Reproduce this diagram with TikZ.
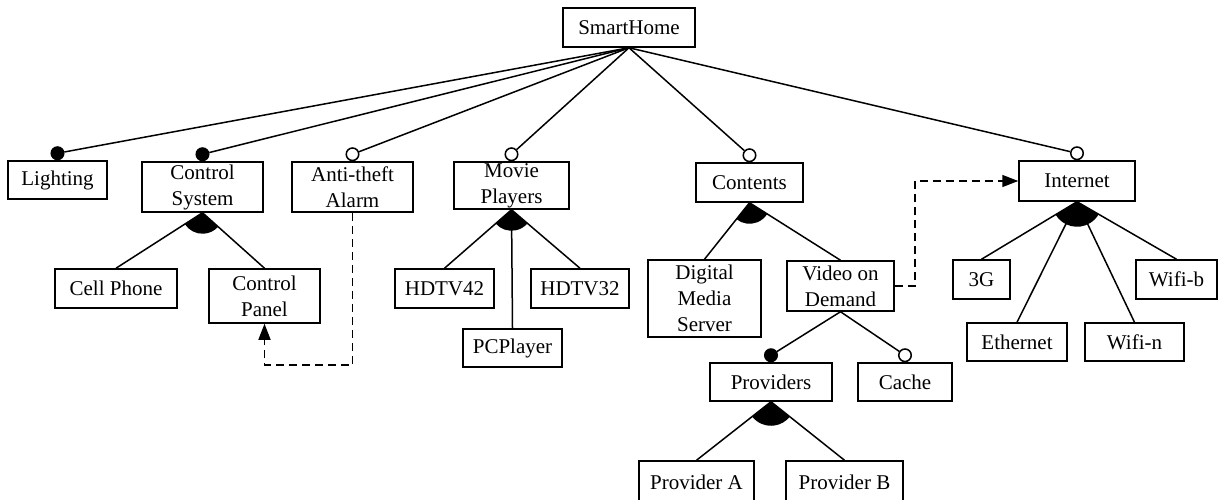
\documentclass[tikz,border=0pt]{standalone}
\usepackage{fontspec}
\setmainfont{Liberation Serif}
\usetikzlibrary{arrows.meta,calc}

\tikzset{
  x=1pt, y=1pt,
  every path/.style={line width=1.5pt},
  feat/.style={draw, line width=1.5pt, inner sep=0pt, align=center,
    font=\fontsize{21}{26}\selectfont},
  mandmark/.style={circle, draw, fill=black, inner sep=0pt,
    minimum size=12.5pt, anchor=south, line width=1.5pt},
  optmark/.style={circle, draw, fill=white, inner sep=0pt,
    minimum size=12.5pt, anchor=south, line width=1.5pt},
  dep/.style={line width=1.5pt, dash pattern=on 8pt off 5pt,
    -{Triangle[length=16pt,width=12pt]}},
}

% feature box: name, centre x, centre y (downwards), width, height, text
\newcommand\featbox[6]{%
  \node[feat, minimum width=#4pt, minimum height=#5pt] (#1) at (#2,-#3) {#6};}

% filled group sector under a parent, spanning its outermost children
\newcommand\grpsector[4]{%
  \fill let \p1=(#1.south), \p2=(#2.north), \p3=(#3.north),
    \n1={atan2(\y2-\y1,\x2-\x1)}, \n2={atan2(\y3-\y1,\x3-\x1)} in
    (\p1) -- ++(\n1:#4pt) arc[start angle=\n1, end angle=\n2, radius=#4pt] -- cycle;}

\begin{document}
\begin{tikzpicture}
\useasboundingbox (0,0) rectangle (1218,-500);

% features
\featbox{root}{629}{27.5}{132}{39}{SmartHome}
\featbox{lgt}{57.5}{180}{99}{38}{Lighting}
\featbox{cs}{202.5}{187}{121}{50}{Control\\System}
\featbox{alarm}{352.5}{187}{121}{50}{Anti-theft\\Alarm}
\featbox{mp}{511.5}{185.5}{115}{47}{Movie\\Players}
\featbox{cont}{749.5}{182.5}{107}{39}{Contents}
\featbox{inet}{1077}{181}{116}{40}{Internet}
\featbox{cell}{116}{288.5}{122}{39}{Cell Phone}
\featbox{cp}{264.5}{296}{111}{54}{Control\\Panel}
\featbox{hd42}{444.5}{288.5}{99}{39}{HDTV42}
\featbox{hd32}{580}{288.5}{98}{39}{HDTV32}
\featbox{pcp}{512.5}{348}{99}{38}{PCPlayer}
\featbox{dms}{704.5}{298.5}{113}{77}{Digital\\Media\\Server}
\featbox{vod}{840.5}{286}{107}{50}{Video on\\Demand}
\featbox{g3}{981.5}{279.5}{57}{39}{3G}
\featbox{wifib}{1176.5}{279.5}{81}{39}{Wifi-b}
\featbox{eth}{1017}{342}{100}{38}{Ethernet}
\featbox{wifin}{1134.5}{342}{99}{38}{Wifi-n}
\featbox{prov}{771}{382}{122}{38}{Providers}
\featbox{cache}{905}{382}{94}{38}{Cache}
\featbox{pa}{696.5}{482}{115}{42}{Provider A}
\featbox{pb}{844.5}{482}{117}{42}{Provider B}

% mandatory / optional markers
\node[mandmark] (lgt-m) at (lgt.north) {};
\node[mandmark] (cs-m) at (cs.north) {};
\node[optmark] (alarm-m) at (alarm.north) {};
\node[optmark] (mp-m) at (mp.north) {};
\node[optmark] (cont-m) at (cont.north) {};
\node[optmark] (inet-m) at (inet.north) {};
\node[mandmark] (prov-m) at (prov.north) {};
\node[optmark] (cache-m) at (cache.north) {};

% edges from the root
\foreach \c in {lgt-m, cs-m, alarm-m, mp-m, cont-m, inet-m}
  \draw (root.south) -- (\c);

% edges of the sub-features
\draw (cs.south) -- (cell.north);
\draw (cs.south) -- (cp.north);
\draw (mp.south) -- (hd42.north);
\draw (mp.south) -- (pcp.north);
\draw (mp.south) -- (hd32.north);
\draw (cont.south) -- (dms.north);
\draw (cont.south) -- (vod.north);
\draw (vod.south) -- (prov-m);
\draw (vod.south) -- (cache-m);
\draw (prov.south) -- (pa.north);
\draw (prov.south) -- (pb.north);
\draw (inet.south) -- (g3.north);
\draw (inet.south) -- (eth.north);
\draw (inet.south) -- (wifin.north);
\draw (inet.south) -- (wifib.north);

% group sectors
\grpsector{cs}{cell}{cp}{21}
\grpsector{mp}{hd42}{hd32}{21}
\grpsector{cont}{dms}{vod}{21}
\grpsector{prov}{pa}{pb}{24}
\grpsector{inet}{g3}{wifib}{25}

% cross-tree dependencies
\coordinate (d1) at (352.5,-365);
\draw[dep] (alarm.south) -- (d1) -| (cp.south);
\coordinate (d2) at (915,-181);
\draw[dep] (vod.east) -| (d2) -- (inet.west);
\end{tikzpicture}
\end{document}
